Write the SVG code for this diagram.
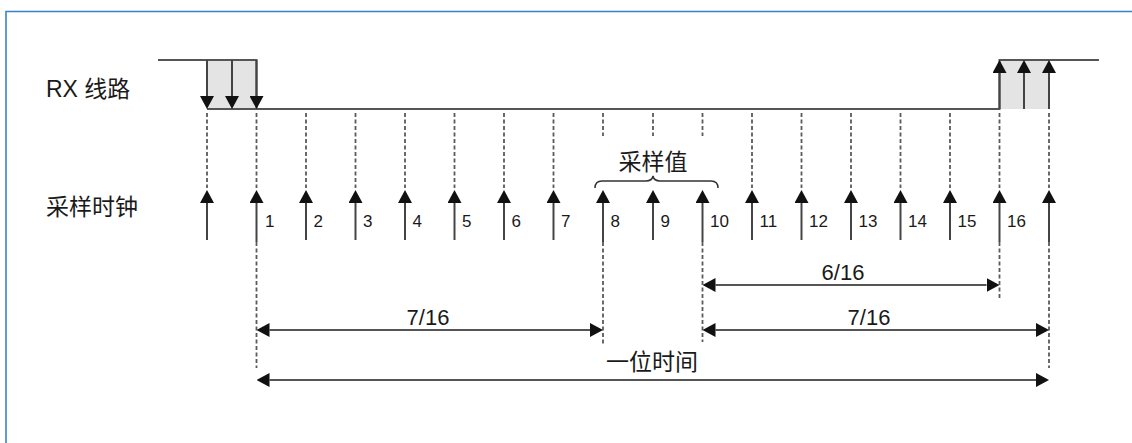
<svg xmlns="http://www.w3.org/2000/svg" width="1132" height="443" viewBox="0 0 1132 443">
<style>
.t{font-family:"Liberation Sans","Noto Sans CJK SC",sans-serif;fill:#1a1a1a}
.lbl{font-size:23px}
.num{font-size:17px}
.dim{font-size:22px;text-anchor:middle}
.sig{stroke:#555;stroke-width:2;fill:none}
.shaft{stroke:#444;stroke-width:2;fill:none}
.dash{stroke:#5a5a5a;stroke-width:1.8;stroke-dasharray:4 2.5;fill:none}
.dl{stroke:#555;stroke-width:2;fill:none}
</style>
<defs>
<marker id="ah" markerUnits="userSpaceOnUse" markerWidth="13" markerHeight="14" refX="0" refY="7" orient="auto-start-reverse" viewBox="0 0 13 14">
<path d="M0,0 L13,7 L0,14 z" fill="#111"/>
</marker>
</defs>
<rect width="1132" height="443" fill="#fff"/>
<path d="M6,443 V11.5 H1132" stroke="#3a82c8" stroke-width="1.6" fill="none"/>

<g id="rx-line">
<rect x="207" y="60" width="49.5" height="49" fill="#e4e4e4"/>
<rect x="999.5" y="60" width="49.5" height="49" fill="#e4e4e4"/>
<path class="sig" d="M158,60 H256.5 V109 M207,109 H999.5 V60 H1099"/>
<line class="shaft" x1="207" y1="60" x2="207" y2="96" marker-end="url(#ah)"/>
<line class="shaft" x1="232" y1="60" x2="232" y2="96" marker-end="url(#ah)"/>
<line class="shaft" x1="256.5" y1="60" x2="256.5" y2="96" marker-end="url(#ah)"/>
<line class="shaft" x1="999.5" y1="109" x2="999.5" y2="73" marker-end="url(#ah)"/>
<line class="shaft" x1="1024" y1="109" x2="1024" y2="73" marker-end="url(#ah)"/>
<line class="shaft" x1="1049" y1="109" x2="1049" y2="73" marker-end="url(#ah)"/>
</g>

<g id="labels">
<text class="t" x="46" y="97" font-size="23">RX 线路</text>
<text class="t lbl" x="46" y="215">采样时钟</text>
</g>

<g id="guides">
<path class="dash" d="M207,113 V188 M256.5,113 V188 M256.5,242 V368 M306,113 V188 M355.5,113 V188 M405,113 V188 M454.5,113 V188 M504,113 V188 M553.5,113 V188 M603,113 V136 M603,242 V345 M653,113 V136 M702.5,113 V136 M702.5,242 V342 M752,113 V188 M801.5,113 V188 M851,113 V188 M900.5,113 V188 M950,113 V188 M999.5,113 V188 M999.5,242 V300 M1049,113 V188 M1049,242 V368"/>
</g>

<g id="clock">
<g class="shaft">
<line x1="207" y1="240" x2="207" y2="203" marker-end="url(#ah)"/>
<line x1="256.5" y1="242" x2="256.5" y2="203" marker-end="url(#ah)"/>
<line x1="306" y1="240" x2="306" y2="203" marker-end="url(#ah)"/>
<line x1="355.5" y1="240" x2="355.5" y2="203" marker-end="url(#ah)"/>
<line x1="405" y1="240" x2="405" y2="203" marker-end="url(#ah)"/>
<line x1="454.5" y1="240" x2="454.5" y2="203" marker-end="url(#ah)"/>
<line x1="504" y1="240" x2="504" y2="203" marker-end="url(#ah)"/>
<line x1="553.5" y1="240" x2="553.5" y2="203" marker-end="url(#ah)"/>
<line x1="603" y1="242" x2="603" y2="203" marker-end="url(#ah)"/>
<line x1="653" y1="240" x2="653" y2="203" marker-end="url(#ah)"/>
<line x1="702.5" y1="242" x2="702.5" y2="203" marker-end="url(#ah)"/>
<line x1="752" y1="240" x2="752" y2="203" marker-end="url(#ah)"/>
<line x1="801.5" y1="240" x2="801.5" y2="203" marker-end="url(#ah)"/>
<line x1="851" y1="240" x2="851" y2="203" marker-end="url(#ah)"/>
<line x1="900.5" y1="240" x2="900.5" y2="203" marker-end="url(#ah)"/>
<line x1="950" y1="240" x2="950" y2="203" marker-end="url(#ah)"/>
<line x1="999.5" y1="242" x2="999.5" y2="203" marker-end="url(#ah)"/>
<line x1="1049" y1="242" x2="1049" y2="203" marker-end="url(#ah)"/>
</g>
<g class="t num">
<text x="265" y="227">1</text>
<text x="313.5" y="227">2</text>
<text x="363" y="227">3</text>
<text x="412.5" y="227">4</text>
<text x="462" y="227">5</text>
<text x="511.5" y="227">6</text>
<text x="561" y="227">7</text>
<text x="610.5" y="227">8</text>
<text x="660.5" y="227">9</text>
<text x="710" y="227">10</text>
<text x="759.5" y="227">11</text>
<text x="809" y="227">12</text>
<text x="858.5" y="227">13</text>
<text x="908" y="227">14</text>
<text x="957.5" y="227">15</text>
<text x="1007" y="227">16</text>
</g>
</g>

<g id="sample-values">
<path d="M595,188 Q595,181 602,181 H646 Q652,181 653,176 Q654,181 660,181 H711 Q718,181 718,188" stroke="#333" stroke-width="1.5" fill="none"/>
<text class="t lbl" x="653" y="170" text-anchor="middle">采样值</text>
</g>

<g id="connectors">
<line class="dl" x1="269.5" y1="330" x2="590" y2="330" marker-start="url(#ah)" marker-end="url(#ah)"/>
<line class="dl" x1="715.5" y1="285" x2="986.5" y2="285" marker-start="url(#ah)" marker-end="url(#ah)"/>
<line class="dl" x1="715.5" y1="330" x2="1036" y2="330" marker-start="url(#ah)" marker-end="url(#ah)"/>
<line class="dl" x1="269.5" y1="380" x2="1036" y2="380" marker-start="url(#ah)" marker-end="url(#ah)"/>
</g>

<g id="dim-labels">
<text class="t dim" x="843" y="280">6/16</text>
<text class="t dim" x="428" y="325">7/16</text>
<text class="t dim" x="869" y="325">7/16</text>
<text class="t lbl" x="652" y="370" text-anchor="middle">一位时间</text>
</g>
</svg>
